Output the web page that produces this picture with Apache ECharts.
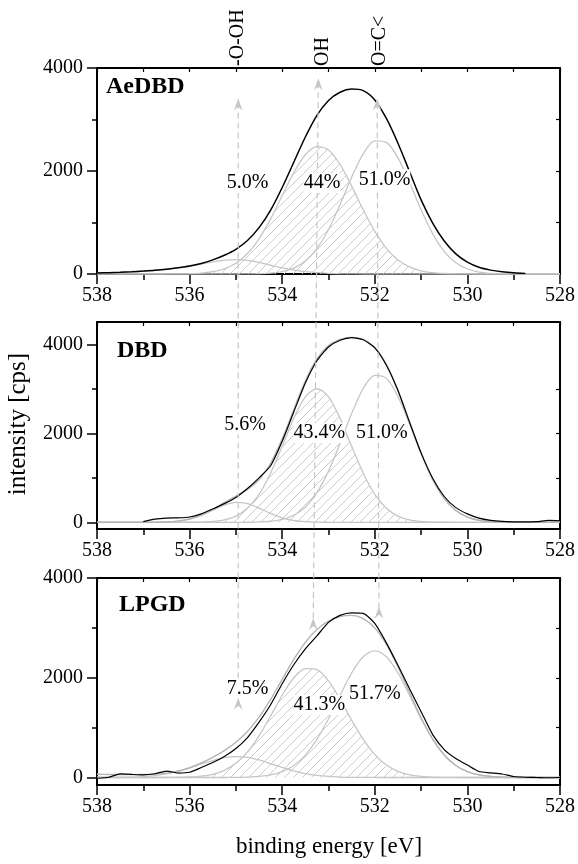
<!DOCTYPE html>
<html>
<head>
<meta charset="utf-8">
<script src="https://cdn.jsdelivr.net/npm/echarts@6/dist/echarts.min.js"></script>
<style>html,body{margin:0;padding:0;background:#fff}#c{width:578px;height:864px}</style>
</head>
<body>
<div id="c"></div>
<script>
// ---------- DATA ----------
const energy = [538,537.75,537.5,537.25,537,536.75,536.5,536.25,536,535.75,535.5,535.25,535,534.75,534.5,534.25,534,533.75,533.5,533.25,533,532.75,532.5,532.25,532,531.75,531.5,531.25,531,530.75,530.5,530.25,530,529.75,529.5,529.25,529,528.75,528.5,528.25,528];

// AeDBD
const aeOOH = [20,25,32,42,55,70,90,118,150,190,235,268,280,265,225,170,118,75,45,25,12,5,2,0,0,0,0,0,0,0,0,0,0,0,0,0,0,0,0,0,0];
const aeOH  = [0,0,0,0,0,0,1,2,6,17,44,101,210,397,684,1070,1523,1969,2316,2475,2406,2126,1707,1247,828,499,274,137,62,26,10,4,1,0,0,0,0,0,0,0,0];
const aeOC  = [0,0,0,0,0,0,0,0,0,0,0,0,0,2,5,17,47,115,252,494,864,1349,1879,2334,2586,2557,2255,1775,1246,780,436,217,97,38,14,5,1,0,0,0,0];
const aeData = [20,26,33,43,56,71,92,120,155,205,275,365,480,650,900,1240,1680,2170,2660,3080,3370,3530,3590,3560,3380,3020,2540,1990,1440,990,640,390,230,130,75,42,22,10,null,null,null];

// DBD
const dbdOOH = [0,0,0,0,0,2,8,27,72,155,272,387,448,421,321,199,100,41,14,4,1,0,0,0,0,0,0,0,0,0,0,0,0,0,0,0,0,0,0,0,0];
const dbdOH  = [0,0,0,0,0,0,0,1,2,6,19,55,140,316,629,1104,1709,2336,2818,3000,2818,2336,1709,1104,629,316,140,55,19,6,2,1,0,0,0,0,0,0,0,0,0];
const dbdOC  = [0,0,0,0,0,0,0,0,0,0,0,0,0,2,8,24,65,158,343,665,1150,1775,2445,3007,3301,3234,2828,2207,1538,956,531,263,116,46,16,5,1,0,0,0,0];
const dbdFit = [0,0,0,0,0,2,8,28,74,161,291,442,588,739,958,1327,1874,2535,3175,3669,3969,4111,4154,4111,3930,3550,2968,2262,1557,962,533,264,116,46,16,5,1,0,0,0,0];
const dbdData = [null,null,null,null,15,70,95,100,120,190,300,420,560,760,1000,1270,1820,2480,3130,3630,3940,4090,4150,4100,3920,3530,2960,2250,1560,990,580,330,190,95,45,20,12,10,15,45,35];

// LPGD
const lpgdOOH = [0,1,3,8,18,38,71,121,189,266,341,397,420,403,352,279,201,131,78,42,21,9,4,2,1,0,0,0,0,0,0,0,0,0,0,0,0,0,0,0,0];
const lpgdOH  = [0,0,0,0,0,0,1,3,10,27,65,142,284,512,836,1234,1650,1995,2182,2161,1936,1569,1151,764,459,249,123,55,22,8,3,1,0,0,0,0,0,0,0,0,0];
const lpgdOC  = [0,0,0,0,0,0,0,0,0,0,0,0,3,8,21,52,117,241,450,764,1177,1648,2096,2421,2540,2421,2096,1648,1177,764,450,241,117,52,21,8,3,1,0,0,0];
const lpgdFit = [65,62,60,58,60,68,88,130,200,293,406,539,707,923,1209,1565,1968,2367,2710,2967,3134,3226,3251,3187,3000,2670,2219,1703,1199,772,453,242,117,52,21,8,3,1,0,0,0];
const lpgdData = [-15,5,75,62,52,75,130,90,105,200,300,420,580,800,1110,1460,1880,2260,2580,2840,3110,3250,3300,3290,3090,2700,2250,1780,1320,860,560,380,250,120,95,70,20,5,0,-5,0];

const panelNames = ['AeDBD','DBD','LPGD'];
const percentLabels = [['5.0%','44%','51.0%'],['5.6%','43.4%','51.0%'],['7.5%','41.3%','51.7%']];
const peakNames = ['-O-OH','OH','O=C<'];
const yTickValues = [0,2000,4000];
const yMinorValues = [1000,3000];
const yRightValues = [1000,2000,3000];
const xAxisTitle = 'binding energy [eV]';
const yAxisTitle = 'intensity [cps]';

// ---------- LAYOUT / STYLE ----------
const FONT = "'Liberation Serif','Times New Roman',serif";
const L = {
  left: 97, right: 16,
  grids: [{top:68,height:206},{top:322,height:207},{top:578,height:207}],
  yRange: [[0,4000],[-150,4500],[-150,4000]],
  nameAt: [[106,87],[117,350.5],[119,604.5]],
  pctAt: [[[534.75,1767],[533.14,1767],[531.79,1839]],
          [[534.8,2192],[533.2,2006],[531.85,2006]],
          [[534.75,1788],[533.2,1454],[532.0,1674]]],
  arrows: [{xTop:534.95,yTop:3410,xBot:534.95,yBot:1600},
           {xTop:533.22,yTop:3800,xBot:533.33,yBot:3200},
           {xTop:531.95,yTop:3410,xBot:531.91,yBot:3430}],
  peakLabelX: [534.97,533.12,531.9],
  peakLabelBottom: 66
};
const GREY = '#c6c6c6';

const panels = [
  {ooh:aeOOH, oh:aeOH, oc:aeOC, fit:null, data:aeData},
  {ooh:dbdOOH, oh:dbdOH, oc:dbdOC, fit:dbdFit, data:dbdData},
  {ooh:lpgdOOH, oh:lpgdOH, oc:lpgdOC, fit:lpgdFit, data:lpgdData}
];

function pairs(arr){
  const out = [];
  energy.forEach((e,i)=>{ if(arr[i]!==null && arr[i]!==undefined) out.push([e, arr[i]]); });
  return out;
}
function hatchCanvas(){
  const c = document.createElement('canvas'); c.width = 9; c.height = 9;
  const g = c.getContext('2d');
  g.strokeStyle = '#cdcdcd'; g.lineWidth = 1;
  g.beginPath(); g.moveTo(-1,10); g.lineTo(10,-1); g.stroke();
  return c;
}
const hatch = hatchCanvas();

const chart = echarts.init(document.getElementById('c'), null, {renderer:'canvas'});

const grid = [], xAxis = [], yAxis = [], series = [];
const firstSeries = [];
L.grids.forEach((g,p)=>{
  grid.push({left:L.left, right:L.right, top:g.top, height:g.height, containLabel:false});
  const axisLine = {show:true, onZero:false, lineStyle:{color:'#000', width:2}};
  xAxis.push({type:'value', gridIndex:p, min:528, max:538, interval:2, inverse:true, position:'bottom',
    axisLine, axisTick:{show:true, length:10, lineStyle:{color:'#000', width:1.5}},
    minorTick:{show:true, splitNumber:2, length:6, lineStyle:{color:'#000', width:1.5}},
    axisLabel:{color:'#000', fontFamily:FONT, fontSize:20, margin:12, formatter:v=>String(v)},
    splitLine:{show:false}, minorSplitLine:{show:false}});
  xAxis.push({type:'value', gridIndex:p, min:528, max:538, interval:1, inverse:true, position:'top',
    axisLine, axisTick:{show:true, inside:true, length:4, lineStyle:{color:'#000', width:1.2}},
    axisLabel:{show:false}, splitLine:{show:false}});
  const [ymin,ymax] = L.yRange[p];
  yAxis.push({type:'value', gridIndex:p, min:ymin, max:ymax, position:'left',
    axisLine, axisTick:{show:true, length:10, customValues:yTickValues, lineStyle:{color:'#000', width:1.5}},
    axisLabel:{color:'#000', fontFamily:FONT, fontSize:20, margin:14, customValues:yTickValues, formatter:v=>String(v)},
    splitLine:{show:false}});
  yAxis.push({type:'value', gridIndex:p, min:ymin, max:ymax, position:'left', offset:0,
    axisLine:{show:false}, axisTick:{show:true, length:5, customValues:yMinorValues, lineStyle:{color:'#000', width:1.5}},
    axisLabel:{show:false}, splitLine:{show:false}});
  yAxis.push({type:'value', gridIndex:p, min:ymin, max:ymax, position:'right',
    axisLine, axisTick:{show:true, inside:true, length:4, customValues:yRightValues, lineStyle:{color:'#000', width:1.2}},
    axisLabel:{show:false}, splitLine:{show:false}});

  const P = panels[p];
  const base = {type:'line', xAxisIndex:2*p, yAxisIndex:3*p, showSymbol:false, symbol:'none', smooth:0.3, animation:false};
  firstSeries.push(series.length);
  series.push(Object.assign({}, base, {name:'OH', data:pairs(P.oh), lineStyle:{color:GREY, width:1.3},
    areaStyle:{color:{image:hatch, repeat:'repeat'}, opacity:1}, z:2}));
  series.push(Object.assign({}, base, {name:'O-OH', data:pairs(P.ooh), lineStyle:{color:GREY, width:1.3}, z:3}));
  series.push(Object.assign({}, base, {name:'O=C', data:pairs(P.oc), lineStyle:{color:GREY, width:1.3}, z:3}));
  if(P.fit){
    series.push(Object.assign({}, base, {name:'fit', data:pairs(P.fit), lineStyle:{color:'#b4b4b4', width:1.4}, z:4}));
  }
  series.push(Object.assign({}, base, {name:'data', data:pairs(P.data), smooth:P.fit?0.2:0.3,
    lineStyle:{color:'#000', width:P.fit?1.2:1.5}, z:5}));
});

chart.setOption({backgroundColor:'#fff', animation:false, grid, xAxis, yAxis, series});

// ---------- ANNOTATIONS ----------
const px = (p, x, y) => chart.convertToPixel({seriesIndex:firstSeries[p]}, [x, y]);
const gfx = [];
const textStyle = (text, size, extra) => Object.assign({text, fill:'#000', font:`${size}px ${FONT}`,
  fontSize:size, fontFamily:FONT}, extra||{});

// dashed arrows spanning the panels
L.arrows.forEach(a=>{
  const t = px(0, a.xTop, a.yTop);
  const b = px(2, a.xBot, a.yBot);
  gfx.push({type:'line', z:10, shape:{x1:t[0], y1:t[1]+4, x2:b[0], y2:b[1]+4},
    style:{stroke:GREY, lineWidth:1.2, lineDash:[6,4]}});
  [t,b].forEach(q=>{
    gfx.push({type:'polygon', z:11, shape:{points:[[q[0],q[1]],[q[0]-4.3,q[1]+12],[q[0],q[1]+8],[q[0]+4.3,q[1]+12]]},
      style:{fill:GREY}});
  });
});

// percentages
L.pctAt.forEach((row,p)=>{
  row.forEach((pos,k)=>{
    const q = px(p, pos[0], pos[1]);
    gfx.push({type:'text', z:20, x:q[0], y:q[1],
      style:textStyle(percentLabels[p][k], 20, {align:'center', verticalAlign:'middle',
        textAlign:'center', textVerticalAlign:'middle', backgroundColor:'#fff'})});
  });
});

// panel names
L.nameAt.forEach((pos,p)=>{
  gfx.push({type:'text', z:20, x:pos[0], y:pos[1],
    style:Object.assign(textStyle(panelNames[p], 24, {align:'left', verticalAlign:'middle',
      textAlign:'left', textVerticalAlign:'middle'}), {font:`bold 24px ${FONT}`, fontWeight:'bold'})});
});

// peak names on top
peakNames.forEach((nm,k)=>{
  const q = px(0, L.peakLabelX[k], 0);
  gfx.push({type:'text', z:20, x:q[0], y:L.peakLabelBottom, rotation:Math.PI/2,
    style:textStyle(nm, 20, {align:'left', verticalAlign:'middle', textAlign:'left', textVerticalAlign:'middle'})});
});

// axis titles
gfx.push({type:'text', z:20, x:329, y:847,
  style:textStyle(xAxisTitle, 23, {align:'center', verticalAlign:'middle', textAlign:'center', textVerticalAlign:'middle'})});
gfx.push({type:'text', z:20, x:18, y:424, rotation:Math.PI/2,
  style:textStyle(yAxisTitle, 25, {align:'center', verticalAlign:'middle', textAlign:'center', textVerticalAlign:'middle'})});

chart.setOption({graphic:{elements:gfx}});
</script>
</body>
</html>
